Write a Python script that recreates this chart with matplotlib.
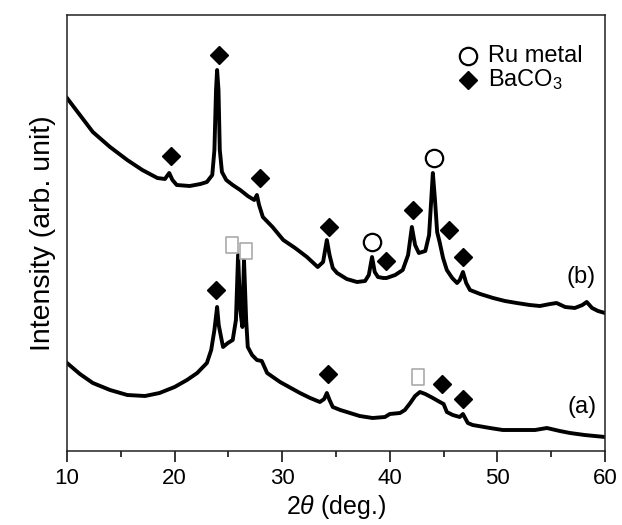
import matplotlib
matplotlib.use("Agg")
import matplotlib.pyplot as plt
from matplotlib.path import Path

plt.rcParams['font.family'] = ['Liberation Sans', 'DejaVu Sans']
plt.rcParams['mathtext.fontset'] = 'custom'
plt.rcParams['mathtext.rm'] = 'Liberation Sans'
plt.rcParams['mathtext.it'] = 'Liberation Sans:italic'

# ---- data ----
b_x = [10.0, 11.2, 12.4, 14.0, 15.6, 17.0, 18.4, 19.1, 19.5, 19.8, 20.2, 21.4, 22.4, 23.0, 23.5,
       23.7, 23.85, 23.95, 24.08, 24.2, 24.4, 24.8, 25.4, 26.1, 26.8, 27.4, 27.65, 27.85, 28.2,
       29.1, 30.1, 31.2, 32.3, 33.3, 33.8, 34.15, 34.4, 34.7, 35.1, 36.0, 36.95, 37.7, 38.05,
       38.35, 38.6, 38.9, 39.4, 39.7, 40.5, 41.2, 41.7, 42.05, 42.35, 42.7, 43.3, 43.65, 43.85,
       44.0, 44.2, 44.4, 44.65, 44.95, 45.3, 45.8, 46.25, 46.5, 46.8, 47.1, 47.45, 48.4, 49.6,
       50.7, 51.8, 53.0, 53.95, 54.9, 55.5, 56.3, 57.2, 57.9, 58.3, 58.8, 59.35, 60.0]
b_y = [353, 336, 319, 304, 291, 281, 273, 272, 278, 271, 266, 265, 267, 269, 276,
       301, 361, 381, 361, 301, 279, 271, 266, 261, 255, 251, 256, 246, 234,
       224, 211, 203, 194, 184, 189, 211, 196, 183, 178, 172, 169, 170, 176,
       194, 179, 174, 173, 173, 176, 181, 196, 224, 206, 198, 200, 216, 251,
       278, 251, 219, 208, 193, 181, 173, 168, 171, 179, 168, 161, 157, 153,
       150, 148, 146, 145, 147, 148, 144, 143, 146, 149, 143, 140, 138]

a_x = [10.0, 11.2, 12.4, 14.0, 15.6, 17.25, 18.6, 20.0, 21.15, 22.1, 23.0, 23.4, 23.7, 23.95,
       24.1, 24.5, 24.95, 25.4, 25.7, 25.9, 26.1, 26.3, 26.35, 26.45, 26.65, 26.8, 27.2, 27.65,
       28.1, 28.6, 29.8, 31.65, 32.6, 33.5, 33.9, 34.15, 34.4, 34.7, 35.4, 36.3, 37.2, 38.4,
       39.55, 40.0, 40.95, 41.4, 41.9, 42.35, 42.8, 43.3, 44.0, 44.65, 45.0, 45.3, 45.85, 46.5,
       46.8, 47.25, 47.7, 49.3, 50.5, 52.1, 53.5, 54.6, 55.8, 56.75, 58.1, 60.0]
a_y = [88, 77, 68, 61, 56, 55, 58, 64, 71, 78, 88, 101, 121, 144,
       126, 104, 108, 111, 131, 196, 141, 124, 151, 191, 131, 104, 96, 91,
       90, 78, 69, 58, 53, 49, 52, 58, 51, 44, 41, 38, 35, 33,
       34, 37, 38, 41, 48, 55, 59, 57, 53, 49, 47, 39, 36, 34,
       37, 28, 26, 23, 21, 21, 21, 23, 20, 18, 16, 14]

# peak markers
b_baco3_x = [19.67, 24.1, 27.95, 34.35, 39.65, 42.15, 45.5, 46.8]
b_baco3_y = [295, 396, 273, 224, 190, 241, 221, 194]
b_ru_x = [38.35, 44.1]
b_ru_y = [209, 293]
a_baco3_x = [23.85, 34.25, 44.85, 46.8]
a_baco3_y = [161, 77, 67, 52]
a_sq_x = [25.35, 26.65, 42.6]
a_sq_y = [206, 200, 74]

legend_labels = ['Ru metal', r'BaCO$_3$']
x_ticks = [10, 20, 30, 40, 50, 60]
x_label = r'2$\theta$ (deg.)'
y_label = 'Intensity (arb. unit)'

# ---- figure ----
fig = plt.figure(figsize=(6.22, 5.25), dpi=100)
ax = fig.add_axes([67/622, 1-451/525, 538/622, 436/525])

ax.plot(b_x, b_y, color='black', lw=2.8, solid_joinstyle='round')
ax.plot(a_x, a_y, color='black', lw=2.8, solid_joinstyle='round')

rect = Path([(-0.4, -0.5), (0.4, -0.5), (0.4, 0.5), (-0.4, 0.5), (-0.4, -0.5)],
            [Path.MOVETO, Path.LINETO, Path.LINETO, Path.LINETO, Path.CLOSEPOLY])

dia = dict(marker='D', ms=9.2, color='black', ls='none')
circ = dict(marker='o', ms=12.5, mfc='white', mec='black', mew=1.6, ls='none')
ax.plot(b_baco3_x, b_baco3_y, **dia)
ax.plot(a_baco3_x, a_baco3_y, **dia)
ax.plot(b_ru_x, b_ru_y, **circ)
ax.plot(a_sq_x, a_sq_y, marker=rect, ms=11, mfc='white', mec='#aaaaaa', mew=1.2, ls='none')

ax.text(57.8, 174, '(b)', fontsize=17, ha='center', va='center')
ax.text(57.9, 44, '(a)', fontsize=17, ha='center', va='center')

# legend (manual, in axes fraction)
ax.plot([0.745], [0.906], transform=ax.transAxes, clip_on=False, **circ)
ax.plot([0.745], [0.851], transform=ax.transAxes, clip_on=False, **dia)
ax.text(0.7825, 0.906, legend_labels[0], transform=ax.transAxes, fontsize=17, va='center', ha='left')
ax.text(0.7825, 0.851, legend_labels[1], transform=ax.transAxes, fontsize=17, va='center', ha='left')

ax.set_xlim(10, 60)
ax.set_ylim(0, 436)
ax.set_xticks(x_ticks)
ax.set_xticks([15, 25, 35, 45, 55], minor=True)
ax.set_yticks([])
ax.tick_params(axis='x', which='major', direction='out', length=8, width=1.1, labelsize=16, pad=4)
ax.tick_params(axis='x', which='minor', direction='out', length=4.5, width=1.1)
for s in ax.spines.values():
    s.set_linewidth(1.1)
    s.set_color('#222222')

ax.set_xlabel(x_label, fontsize=18, labelpad=3)
ax.set_ylabel(y_label, fontsize=20.5, labelpad=8)

fig.savefig('out.png', dpi=100)
